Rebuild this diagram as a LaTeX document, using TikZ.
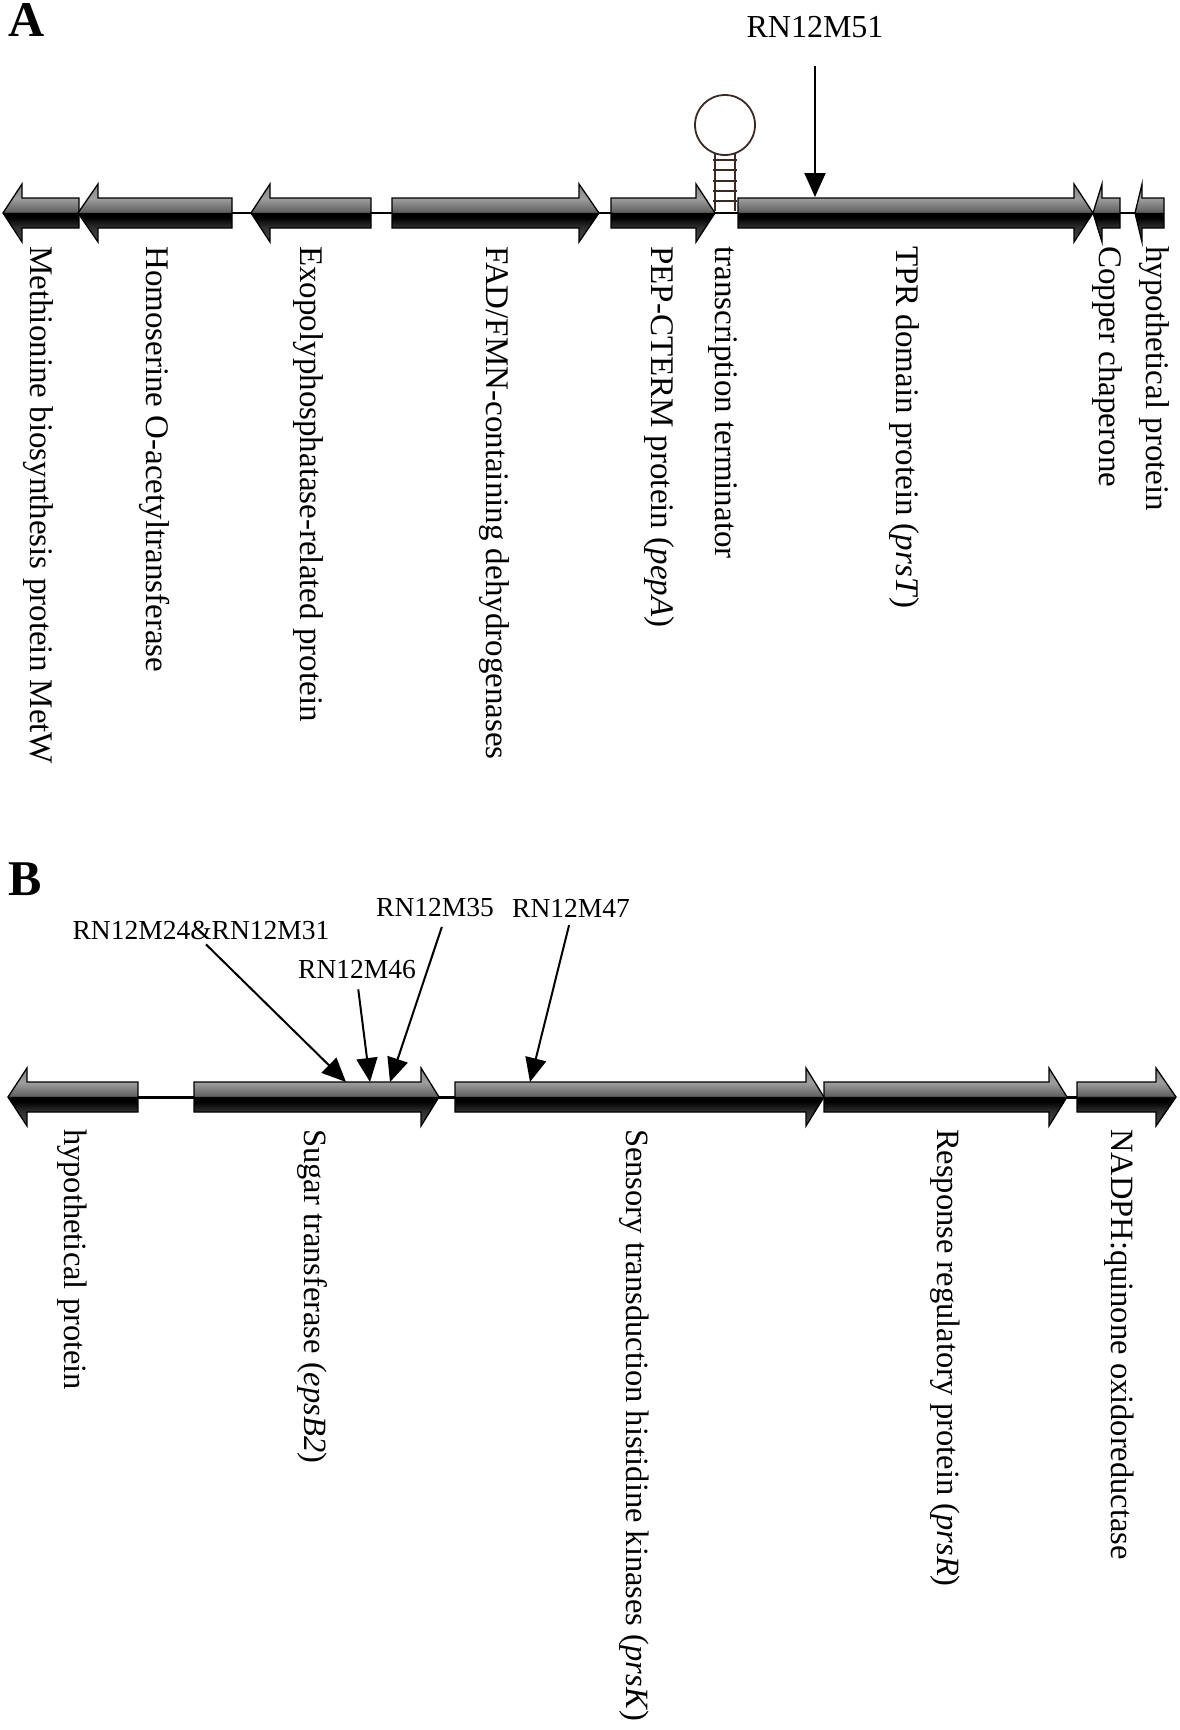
\documentclass[tikz,border=0pt]{standalone}
\usepackage{fontspec}
\setmainfont{Liberation Serif}
\usetikzlibrary{arrows.meta}
\definecolor{stemcol}{HTML}{3A2A22}
\pgfdeclareverticalshading{genegrad}{100bp}{color(0bp)=(black!70); color(25bp)=(black!70); color(38bp)=(black!82); color(46bp)=(black); color(50bp)=(black); color(51bp)=(black!62); color(62.5bp)=(black!38); color(75bp)=(black!48); color(100bp)=(black!48)}
% #1 head length, #2 tail x, #3 tip x, #4 centre y
\newcommand{\gene}[4][20]{%
  \path[gene] (#2,#4-15) -- ({#3-#1*sign(#3-#2)},#4-15) -- ({#3-#1*sign(#3-#2)},#4-29) -- (#3,#4)
    -- ({#3-#1*sign(#3-#2)},#4+29) -- ({#3-#1*sign(#3-#2)},#4+15) -- (#2,#4+15) -- cycle;}
\begin{document}
\begin{tikzpicture}[x=1pt,y=-1pt]
    \tikzstyle{gene}=[draw=black, line width=1.3pt, shading=genegrad]
    \tikzstyle{lab}=[rotate=-90, anchor=mid west, inner sep=0pt, font=\fontsize{33}{39}\selectfont]
    \tikzstyle{mutlab}=[inner sep=0pt, font=\fontsize{27.5}{33}\selectfont]
    \tikzstyle{mut}=[-{Triangle[length=24pt,width=21pt]}, line width=2pt]
    \tikzstyle{panel}=[anchor=north west, inner sep=0pt, font=\fontsize{50}{60}\selectfont\bfseries]
    \useasboundingbox (0,0) rectangle (1180,1730);

    \node[panel] (pa) at (8,3) {A};
    \node[panel] (pb) at (8,863) {B};

    \draw[line width=1.5pt] (3,213) -- (1164,213);
    \draw[stemcol, line width=1.8pt] (725,125) circle (30);
    \draw[stemcol, line width=1.6pt] (715,153) -- (715,211) (735,153) -- (735,211);
    \foreach \yy in {160,170,181,191,201}
      \draw[stemcol, line width=1.6pt] (713,\yy) -- (737,\yy);

    \gene[19]{79}{3}{213}
    \gene{232}{78}{213}
    \gene[19]{371}{251}{213}
    \gene{392}{599}{213}
    \gene[19]{611}{715}{213}
    \gene[19]{738}{1093}{213}
    \gene[9]{1120}{1093}{213}
    \gene[7]{1164}{1135}{213}

    \node[lab] (metw) at (33,246) {Methionine biosynthesis protein MetW};
    \node[lab] (homo) at (149,246) {Homoserine O-acetyltransferase};
    \node[lab] (exo) at (303,246) {Exopolyphosphatase-related protein};
    \node[lab] (fad) at (489,246) {FAD/FMN-containing dehydrogenases};
    \node[lab] (pep) at (654,246) {PEP-CTERM protein (\textit{pepA})};
    \node[lab] (term) at (718,246) {transcription terminator};
    \node[lab] (tpr) at (899,246) {TPR domain protein (\textit{prsT})};
    \node[lab] (cop) at (1102,246) {Copper chaperone};
    \node[lab] (hypa) at (1149,246) {hypothetical protein};

    \node[mutlab, font=\fontsize{32}{38}\selectfont] (l51) at (815,27) {RN12M51};
    \coordinate (m51) at (815,197);
    \draw[mut, shorten <=28pt] (l51.south) -- (m51);

    \draw[line width=3pt] (8,1097) -- (1170,1097);
    \gene[19]{138}{8}{1097}
    \gene[18]{194}{439}{1097}
    \gene[18]{455}{824}{1097}
    \gene[18]{824}{1067}{1097}
    \gene{1077}{1176}{1097}

    \node[lab, font=\fontsize{32.5}{39}\selectfont] (hypb) at (67,1129) {hypothetical protein};
    \node[lab, font=\fontsize{32.5}{39}\selectfont] (sugar) at (307,1129) {Sugar transferase (\textit{epsB2})};
    \node[lab, font=\fontsize{32.5}{39}\selectfont] (sens) at (629,1129) {Sensory transduction histidine kinases (\textit{prsK})};
    \node[lab, font=\fontsize{32.5}{39}\selectfont] (resp) at (940,1129) {Response regulatory protein (\textit{prsR})};
    \node[lab, font=\fontsize{32.5}{39}\selectfont] (nadph) at (1114,1129) {NADPH:quinone oxidoreductase};

    \node[mutlab] (l2431) at (201,930) {RN12M24\&RN12M31};
    \node[mutlab] (l46) at (357,970) {RN12M46};
    \node[mutlab] (l35) at (435,908) {RN12M35};
    \node[mutlab] (l47) at (571,908) {RN12M47};
    \coordinate (m2431) at (346,1082);
    \coordinate (m46) at (370,1082);
    \coordinate (m35) at (390,1082);
    \coordinate (m47) at (530,1082);
    \draw[mut, shorten <=7pt] (l2431.south) -- (m2431);
    \draw[mut, shorten <=10pt] (l46.south) -- (m46);
    \draw[mut, shorten <=10pt] ([xshift=10pt]l35.south) -- (m35);
    \draw[mut, shorten <=8pt] (l47.south) -- (m47);
  \end{tikzpicture}
\end{document}
